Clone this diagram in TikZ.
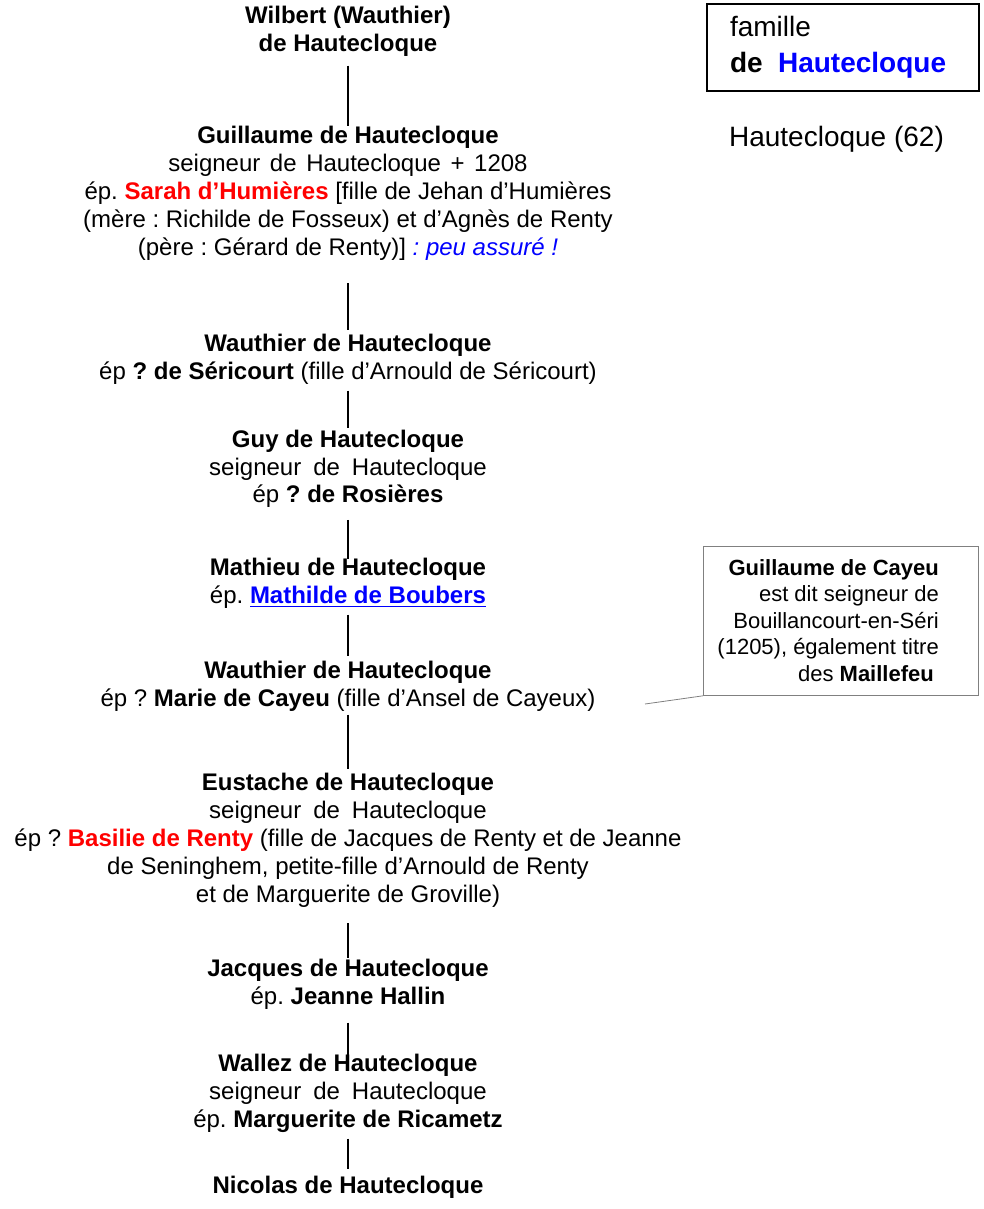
\documentclass[tikz,border=0pt]{standalone}
\usepackage{fontspec}
\setmainfont{Liberation Sans}
\usetikzlibrary{positioning}
\frenchspacing
\newcommand{\taillenom}{\fontsize{24pt}{27.8pt}\selectfont}
\newcommand{\taillecadre}{\fontsize{28pt}{36pt}\selectfont}
\newcommand{\taillenote}{\fontsize{22pt}{26.5pt}\selectfont}
\newcommand{\souligne}[1]{\setbox0\hbox{#1}\rlap{\rule[-3.5pt]{\wd0}{1.6pt}}\box0}
\tikzstyle{person} = [align=center, anchor=north, inner sep=0pt, outer sep=0pt, font=\taillenom, text=black]
\tikzstyle{lien} = [draw, line width=2.6pt]
\tikzstyle{famille} = [draw, rectangle, line width=2.2pt, text width=226pt, inner xsep=23pt, minimum height=87pt, align=left, font=\taillecadre]
\tikzstyle{cadre} = [draw=gray, rectangle, line width=0.8pt, minimum width=275pt, minimum height=149pt, anchor=north west]
\tikzstyle{note} = [align=right, anchor=north east, inner sep=0pt, font=\taillenote]
\tikzstyle{renvoi} = [draw=gray, line width=0.8pt]

\begin{document}
\begin{tikzpicture}[x=1pt, y=-1pt]
    \useasboundingbox (0,0) rectangle (983,1209);

    \node at (348,6.5) [person] (wilbert) {\textbf{Wilbert (Wauthier)}\\ \textbf{de Hautecloque}};
    \node at (348,126.5) [person] (guillaume) {\textbf{Guillaume de Hautecloque}\\
        seigneur\hspace{0.4em}de\hspace{0.4em}Hautecloque\hspace{0.4em}+\hspace{0.4em}1208\\
        ép. \textcolor{red}{\textbf{Sarah d’Humières}} [fille de Jehan d’Humières\\
        (mère : Richilde de Fosseux) et d’Agnès de Renty\\
        (père : Gérard de Renty)] \textcolor{blue}{\textit{: peu assuré !}}};
    \node at (348,334.5) [person] (wauthierA) {\textbf{Wauthier de Hautecloque}\\
        ép \textbf{? de Séricourt} (fille d’Arnould de Séricourt)};
    \node at (348,430) [person] (guy) {\textbf{Guy de Hautecloque}\\
        seigneur\hspace{0.5em}de\hspace{0.5em}Hautecloque\\ ép \textbf{? de Rosières}};
    \node at (348,558.5) [person] (mathieu) {\textbf{Mathieu de Hautecloque}\\
        ép. \textcolor{blue}{\souligne{\textbf{Mathilde de Boubers}}}};
    \node at (348,661.5) [person] (wauthierB) {\textbf{Wauthier de Hautecloque}\\
        ép ? \textbf{Marie de Cayeu} (fille d’Ansel de Cayeux)};
    \node at (348,773.5) [person] (eustache) {\textbf{Eustache de Hautecloque}\\
        seigneur\hspace{0.5em}de\hspace{0.5em}Hautecloque\\
        ép ? \textcolor{red}{\textbf{Basilie de Renty}} (fille de Jacques de Renty et de Jeanne\\
        de Seninghem, petite-fille d’Arnould de Renty\\
        et de Marguerite de Groville)};
    \node at (348,959.5) [person] (jacques) {\textbf{Jacques de Hautecloque}\\ ép. \textbf{Jeanne Hallin}};
    \node at (348,1054.5) [person] (wallez) {\textbf{Wallez de Hautecloque}\\
        seigneur\hspace{0.5em}de\hspace{0.5em}Hautecloque\\ ép. \textbf{Marguerite de Ricametz}};
    \node at (348,1176.5) [person] (nicolas) {\textbf{Nicolas de Hautecloque}};

    \draw [lien, shorten <=9pt] (wilbert.south) -- (guillaume.north);
    \draw [lien, shorten <=23pt, shorten >=5pt] (guillaume.south) -- (wauthierA.north);
    \draw [lien, shorten <=6pt, shorten >=2pt] (wauthierA.south) -- (guy.north);
    \draw [lien, shorten <=12pt] (guy.south) -- (mathieu.north);
    \draw [lien, shorten <=6pt, shorten >=6pt] (mathieu.south) -- (wauthierB.north);
    \draw [lien, shorten <=3pt, shorten >=5pt] (wauthierB.south) -- (eustache.north);
    \draw [lien, shorten <=16pt, shorten >=2pt] (eustache.south) -- (jacques.north);
    \draw [lien, shorten <=13pt] (jacques.south) -- (wallez.north);
    \draw [lien, shorten <=6pt, shorten >=8pt] (wallez.south) -- (nicolas.north);

    \node at (843,47.5) [famille] (legende) {famille\\ \textbf{de\hspace{0.55em}\textcolor{blue}{Hautecloque}}};
    \node [below right=34pt and 23pt of legende.south west, inner sep=0pt, font=\taillecadre] (lieu) {Hautecloque (62)};

    \node at (703,546) [cadre] (cadre) {};
    \node at (939,559) [note] (cayeu) {\textbf{Guillaume de Cayeu}\\ est dit seigneur de\\
        Bouillancourt-en-Séri\\ (1205), également titre\\ des \textbf{Maillefeu}\hspace*{5pt}};
    \coordinate (pointe) at (645,704);
    \draw [renvoi] (cadre.south west) -- (pointe);
\end{tikzpicture}
\end{document}
